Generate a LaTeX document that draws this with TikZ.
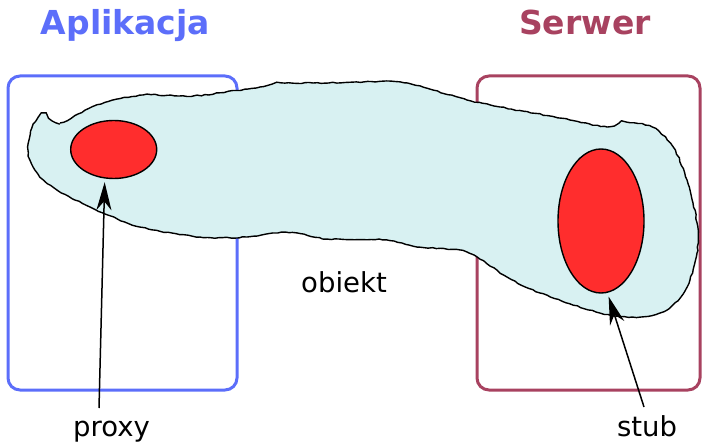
\documentclass[tikz,border=0pt]{standalone}
\usepackage{fontspec}
\setmainfont{DejaVu Sans}
\usetikzlibrary{arrows.meta,decorations.pathmorphing,shapes.geometric}
\definecolor{appblue}{RGB}{92,110,250}
\definecolor{srvred}{RGB}{168,66,96}
\definecolor{objfill}{RGB}{216,241,242}
\definecolor{partred}{RGB}{255,45,45}
\tikzset{
  zone/.style={line width=3pt, rounded corners=12pt},
  title/.style={font=\bfseries\fontsize{33}{36}\selectfont, anchor=base},
  label/.style={font=\fontsize{27.5}{30}\selectfont, anchor=base, text=black},
  part/.style={ellipse, draw=black, line width=1.4pt, fill=partred, inner sep=0pt},
  pointer/.style={line width=1.5pt, shorten >=2pt,
    -{Stealth[length=28pt,width=15pt,inset=9pt]}},
  wobbly/.style={draw=black, line width=1.4pt, fill=objfill,
    decorate, decoration={random steps, segment length=4pt, amplitude=0.6pt}}
}
\begin{document}
\begin{tikzpicture}[x=1pt,y=-1pt]
\useasboundingbox (0,0) rectangle (703,443);
\pgfmathsetseed{7}
% titles
\node[title, text=appblue] (tapp) at (125.5,35) {Aplikacja};
\node[title, text=srvred] (tsrv) at (585,35) {Serwer};
% process boxes
\draw[zone, draw=appblue] (8,76) rectangle (237,390);
\draw[zone, draw=srvred] (477,76) rectangle (700,390);
% the distributed object
\path[wobbly] plot[smooth cycle, tension=0.5] coordinates {
  (42,114) (60,123) (97,105) (143,95) (193,96) (260,87) (277,83) (313,83)
  (363,82) (400,82) (433,90) (467,100) (500,107) (550,116) (607,127)
  (622,122) (652,127) (673,147) (687,180) (697,223) (697,253) (687,287)
  (667,310) (640,317) (600,313) (540,293) (507,277) (477,257) (460,250)
  (417,247) (387,240) (327,239) (297,233) (273,233) (247,237) (200,237)
  (140,227) (90,207) (57,190) (40,177) (30,160) (28,147) (32,128)};
% proxy and stub
\node[part, minimum width=86pt, minimum height=58pt] (proxy) at (113.7,149.5) {};
\node[part, minimum width=86pt, minimum height=144pt] (stub) at (601,221) {};
% labels
\node[label] (lobj) at (344,292) {obiekt};
\node[label] (lproxy) at (111.5,436) {proxy};
\node[label] (lstub) at (647,436) {stub};
\coordinate (pfoot) at (99,408);
\coordinate (sfoot) at (644,407);
\draw[pointer] (pfoot) -- ([xshift=-9pt,yshift=-1pt]proxy.south);
\draw[pointer] (sfoot) -- ([xshift=7pt,yshift=-1pt]stub.south);
\end{tikzpicture}
\end{document}
